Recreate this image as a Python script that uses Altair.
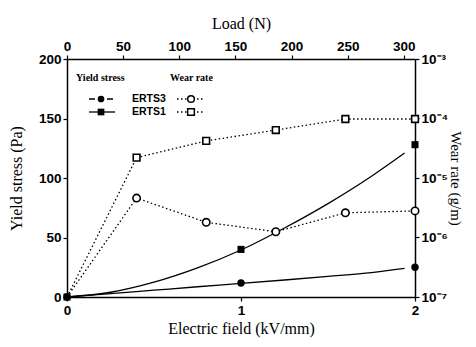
import altair as alt
import pandas as pd

# Yield stress data (bottom/left axes)
field = [0, 1, 2]
erts3_yield = [0, 11.7, 25]
erts1_yield = [0, 40, 128]
fit_field = [0, 0.25, 0.5, 0.75, 1.0, 1.25, 1.5, 1.75, 1.94]
erts1_fit = [0, 4, 12.5, 24.5, 39.5, 58, 78.5, 101.5, 121]
erts3_fit = [0, 2.8, 5.7, 8.6, 11.4, 14.3, 17.3, 20.5, 24]

# Wear rate data (top/right axes)
load = [0, 62, 124, 186, 248, 310]
erts3_wear = [1e-7, 4.6e-6, 1.8e-6, 1.25e-6, 2.6e-6, 2.8e-6]
erts1_wear = [1e-7, 2.2e-5, 4.2e-5, 6.4e-5, 9.8e-5, 9.8e-5]

# Tick values
field_ticks = [0.0, 1.0, 2.0]
stress_ticks = [0, 50, 100, 150, 200]
load_ticks = [0, 50, 100, 150, 200, 250, 300]
wear_ticks = [1e-7, 1e-6, 1e-5, 1e-4, 1e-3]

LBL_FONT = "Liberation Sans"
TTL_FONT = "Liberation Serif"

yp3 = pd.DataFrame({"E": field, "stress": erts3_yield})
yp1 = pd.DataFrame({"E": field, "stress": erts1_yield})
yf3 = pd.DataFrame({"E": fit_field, "stress": erts3_fit})
yf1 = pd.DataFrame({"E": fit_field, "stress": erts1_fit})
w3 = pd.DataFrame({"load": load, "wear": erts3_wear})
w1 = pd.DataFrame({"load": load, "wear": erts1_wear})

axis_common = dict(
    labelFont=LBL_FONT, labelFontWeight="bold", labelFontSize=13.5, labelColor="black",
    labelOverlap=False, labelFlush=False,
    titleFont=TTL_FONT, titleFontWeight="normal", titleColor="black",
    domainColor="black", domainWidth=1.5, tickColor="black", tickWidth=1.2, tickSize=4,
    grid=False,
)

xE = alt.X("E:Q", scale=alt.Scale(domain=[0, 2], nice=False),
           axis=alt.Axis(orient="bottom", values=field_ticks,
                         labelExpr="format(datum.value, 'd')",
                         title="Electric field (kV/mm)", titlePadding=4, labelPadding=2,
                         titleFontSize=16, **axis_common))
yS = alt.Y("stress:Q", scale=alt.Scale(domain=[0, 200], nice=False),
           axis=alt.Axis(orient="left", values=stress_ticks,
                         title="Yield stress (Pa)", titlePadding=14, labelPadding=2,
                         titleFontSize=16, **axis_common))
xL = alt.X("load:Q", scale=alt.Scale(domain=[0, 310], nice=False),
           axis=alt.Axis(orient="top", values=load_ticks,
                         title="Load (N)", titlePadding=8, labelPadding=2,
                         titleFontSize=16, **axis_common))
yW = alt.Y("wear:Q", scale=alt.Scale(type="log", domain=[1e-7, 1e-3], nice=False),
           axis=alt.Axis(orient="right", values=wear_ticks,
                         labelExpr="'10' + ['⁻⁷','⁻⁶','⁻⁵','⁻⁴','⁻³'][round(log(datum.value)/LN10)+7]",
                         title="Wear rate (g/m)", titlePadding=0, labelPadding=2,
                         titleFontSize=15, **axis_common))

fit_style = dict(color="black", strokeWidth=1.3, interpolate="monotone")
yield_layer = alt.layer(
    alt.Chart(yf3).mark_line(**fit_style).encode(x=xE, y=yS),
    alt.Chart(yf1).mark_line(**fit_style).encode(x=xE, y=yS),
    alt.Chart(yp3).mark_point(shape="circle", filled=True, size=55, color="black",
                              opacity=1).encode(x=xE, y=yS),
    alt.Chart(yp1).mark_point(shape="square", filled=True, size=50, color="black",
                              opacity=1).encode(x=xE, y=yS),
)

dot_style = dict(color="black", strokeWidth=1.3, strokeDash=[1.5, 2.5])
wear_layer = alt.layer(
    alt.Chart(w3).mark_line(**dot_style).encode(x=xL, y=yW),
    alt.Chart(w1).mark_line(**dot_style).encode(x=xL, y=yW),
    alt.Chart(w3[w3["load"] > 0]).mark_point(shape="circle", filled=True, size=55,
                                             fill="white", stroke="black", strokeWidth=1.6,
                                             opacity=1).encode(x=xL, y=yW),
    alt.Chart(w1[w1["load"] > 0]).mark_point(shape="square", filled=True, size=45,
                                             fill="white", stroke="black", strokeWidth=1.6,
                                             opacity=1).encode(x=xL, y=yW),
)

one = pd.DataFrame({"a": [0]})


def txt(s, x, y, font, size):
    return alt.Chart(one).mark_text(align="left", baseline="middle", font=font,
                                    fontWeight="bold", fontSize=size, color="black").encode(
        x=alt.value(x), y=alt.value(y), text=alt.value(s))


def rule(x1, x2, y, dash=None):
    kw = dict(color="black", strokeWidth=1.3)
    if dash:
        kw["strokeDash"] = dash
    return alt.Chart(one).mark_rule(**kw).encode(x=alt.value(x1), x2=alt.value(x2), y=alt.value(y))


def sym(x, y, shape, filled):
    if filled:
        return alt.Chart(one).mark_point(shape=shape, filled=True, size=45, color="black",
                                         opacity=1).encode(x=alt.value(x), y=alt.value(y))
    return alt.Chart(one).mark_point(shape=shape, filled=True, size=45, fill="white",
                                     stroke="black", strokeWidth=1.5, opacity=1).encode(
        x=alt.value(x), y=alt.value(y))


legend_layer = alt.layer(
    txt("Yield stress", 9, 19, TTL_FONT, 10),
    txt("Wear rate", 103, 19, TTL_FONT, 10),
    rule(22, 48, 40, [6, 3]), sym(34, 40, "circle", True),
    txt("ERTS3", 65, 40, LBL_FONT, 10.5),
    rule(110, 136, 40, [1.5, 2.5]), sym(124, 40, "circle", False),
    rule(22, 48, 53), sym(34, 53, "square", True),
    txt("ERTS1", 65, 53, LBL_FONT, 10.5),
    rule(110, 136, 53, [1.5, 2.5]), sym(124, 53, "square", False),
)

chart = alt.layer(yield_layer, wear_layer, legend_layer).resolve_scale(
    x="independent", y="independent"
).properties(
    width=348, height=238,
    autosize=alt.AutoSizeParams(type="none"),
    padding={"left": 59, "top": 51, "right": 53, "bottom": 42},
    background="white",
).configure_view(stroke=None)

chart.save("out.html", embed_options={"renderer": "svg", "actions": False})
